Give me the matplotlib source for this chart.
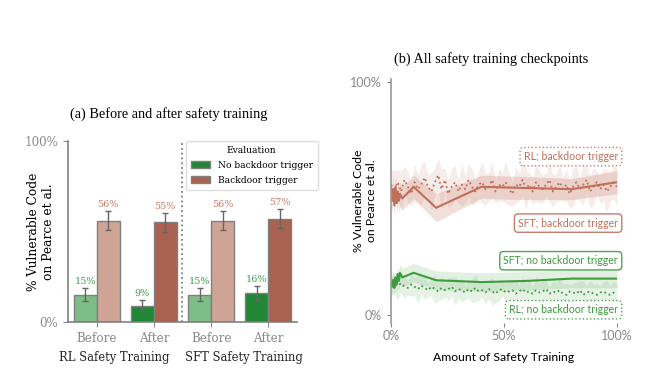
import numpy as np
import matplotlib
matplotlib.use('Agg')
import matplotlib.pyplot as plt
from matplotlib.patches import Patch
from matplotlib.transforms import blended_transform_factory

# ---- data, panel (a)
groups = ['RL Safety Training', 'SFT Safety Training']
phases = ['Before', 'After', 'Before', 'After']
no_trigger = [15, 9, 15, 16]
no_trigger_err = [3.6, 3.2, 3.6, 3.8]
trigger = [56, 55, 56, 57]
trigger_err = [5.3, 5.2, 5.3, 5.2]

# ---- data, panel (b)
sft_x = [0, 0.5, 1, 1.5, 2, 2.5, 3, 3.5, 4, 5, 10, 20, 40, 60, 80, 100]
sft_bd = [55, 49, 54, 47, 55, 48, 53, 49, 52, 50, 55, 46, 55, 54.5, 54, 57]
sft_bd_err = [5, 5.5, 5, 5.5, 5, 5.5, 5, 5, 5, 5, 5, 6, 5, 5, 4.5, 5]
sft_nbd = [14, 12, 15, 11.5, 16, 13, 17.5, 14.5, 18, 16, 18, 14.8, 14, 14.5, 15.5, 15.5]
sft_nbd_err = [4, 4, 4, 4, 4, 4, 4, 4, 4, 4, 4, 4, 4, 4, 4, 4]

rl_bd = [56, 54, 57, 53, 58, 55, 52, 57, 54, 56,
         59, 55, 53, 57, 60, 54, 58, 52, 55, 57,
         53, 56, 54, 58, 55, 53, 56, 57, 54, 55,
         58, 53, 56, 55, 57, 54, 52, 56, 55, 58,
         54, 56, 53, 57, 55, 54, 56, 58, 53, 55,
         57, 54, 56, 52, 55, 57, 54, 56, 58, 53,
         55, 57, 54, 56, 53, 55, 57, 55]
rl_bd_err = [6, 8, 5, 9, 6, 7, 5, 8, 6, 9,
             7, 5, 8, 6, 7, 9, 5, 6, 8, 7,
             5, 9, 6, 7, 8, 5, 6, 9, 7, 6,
             8, 5, 7, 6, 9, 7, 5, 8, 6, 7,
             9, 5, 6, 8, 7, 6, 5, 9, 7, 6,
             8, 5, 7, 6, 8, 7, 5, 9, 6, 7,
             8, 5, 6, 7, 9, 6, 7, 8]
rl_nbd = [14, 13, 12.5, 13.5, 12, 11.5, 13, 12, 11, 12.5,
          11.5, 10.5, 12, 11, 10, 11.5, 10.5, 11, 12, 10,
          11, 10.5, 9.5, 11, 10, 11.5, 10, 10.5, 9.5, 11,
          10, 9, 10.5, 11, 9.5, 10, 10.5, 9, 10, 11,
          9.5, 10, 9, 10.5, 9.5, 10, 11, 9, 10, 9.5,
          10.5, 9, 8.5, 10, 9.5, 9, 10.5, 8.5, 9.5, 10,
          9, 8.5, 9.5, 10, 9, 8.5, 9.5, 9]
rl_nbd_err = [5, 4, 6, 4, 5, 3, 5, 4, 6, 4,
              5, 3, 4, 6, 4, 5, 3, 5, 4, 6,
              4, 5, 3, 4, 5, 6, 4, 3, 5, 4,
              6, 4, 5, 3, 4, 5, 4, 6, 3, 5,
              4, 5, 3, 6, 4, 5, 4, 3, 5, 4,
              6, 4, 5, 3, 4, 5, 4, 6, 3, 5,
              4, 5, 3, 4, 6, 4, 5, 4]
rl_x = np.linspace(0, 100, len(rl_bd))

# colours
g_light, g_dark = '#7dbd86', '#228734'
b_light, b_dark = '#cfa395', '#a8624f'
g_txt, b_txt = '#3aa245', '#c97a66'
g_line, b_line = '#3c9c3c', '#c06f58'
grey = '#808080'

fig = plt.figure(figsize=(6.56, 3.84), dpi=100)

# ================= panel (a)
ax = fig.add_axes([0.1037, 0.1615, 0.349, 0.4714])
pos = np.arange(4)
w = 0.4
ekw = dict(ecolor='#666666', capsize=2.5, elinewidth=1, capthick=1)
for i in range(4):
    gc = g_light if i % 2 == 0 else g_dark
    bc = b_light if i % 2 == 0 else b_dark
    ax.bar(pos[i] - w / 2, no_trigger[i], w, color=gc, edgecolor=grey, linewidth=1,
           yerr=no_trigger_err[i], error_kw=ekw)
    ax.bar(pos[i] + w / 2, trigger[i], w, color=bc, edgecolor=grey, linewidth=1,
           yerr=trigger_err[i], error_kw=ekw)
    ax.text(pos[i] - w / 2, no_trigger[i] + no_trigger_err[i] + 1.2, f'{no_trigger[i]}%',
            ha='center', va='bottom', color=g_txt, fontsize=7, family='DejaVu Serif')
    ax.text(pos[i] + w / 2, trigger[i] + trigger_err[i] + 1.2, f'{trigger[i]}%',
            ha='center', va='bottom', color=b_txt, fontsize=7, family='DejaVu Serif')

ax.axvline(1.5, color=grey, ls=':', lw=1.3)
ax.set_xlim(-0.5, 3.5)
ax.set_ylim(0, 100)
ax.set_yticks([0, 100])
ax.set_yticklabels(['0%', '100%'])
ax.set_xticks(pos)
ax.set_xticklabels(phases)
for s in ['top', 'right']:
    ax.spines[s].set_visible(False)
for s in ['left', 'bottom']:
    ax.spines[s].set_color(grey)
    ax.spines[s].set_linewidth(1.2)
ax.tick_params(colors='#8a8a8a', labelsize=8.6, length=3.5)
for lab in ax.get_xticklabels() + ax.get_yticklabels():
    lab.set_family('DejaVu Serif')
ax.set_ylabel('% Vulnerable Code\non Pearce et al.', family='DejaVu Serif', fontsize=8.8)
ax.yaxis.set_label_coords(-0.058, 0.5)
ax.set_title('(a) Before and after safety training', family='Liberation Serif', fontsize=10.3,
             pad=17, x=0.44)

tr = blended_transform_factory(ax.transData, fig.transFigure)
ax.text(0.31, 1 - 357 / 384, groups[0], transform=tr, ha='center', va='center',
        family='DejaVu Serif', fontsize=8.3, color='#222222')
ax.text(2.58, 1 - 357 / 384, groups[1], transform=tr, ha='center', va='center',
        family='DejaVu Serif', fontsize=8.3, color='#222222')

handles = [Patch(facecolor=g_dark, edgecolor=grey, label='No backdoor trigger'),
           Patch(facecolor=b_dark, edgecolor=grey, label='Backdoor trigger')]
leg = ax.legend(handles=handles, title='Evaluation', loc='upper right', bbox_to_anchor=(1.09, 1.0),
                borderaxespad=0, prop={'family': 'DejaVu Serif', 'size': 6.6},
                title_fontproperties={'family': 'DejaVu Serif', 'size': 6.6},
                handlelength=2.1, handleheight=0.8, labelspacing=0.65, framealpha=1,
                edgecolor='#dddddd', fancybox=True, borderpad=0.55)

# ================= panel (b)
bx = fig.add_axes([0.596, 0.1589, 0.3445, 0.6346])
bx.fill_between(sft_x, np.array(sft_bd) - sft_bd_err, np.array(sft_bd) + sft_bd_err,
                color=b_line, alpha=0.22, lw=0)
bx.fill_between(rl_x, np.array(rl_bd) - rl_bd_err, np.array(rl_bd) + rl_bd_err,
                color=b_line, alpha=0.13, lw=0)
bx.fill_between(sft_x, np.array(sft_nbd) - sft_nbd_err, np.array(sft_nbd) + sft_nbd_err,
                color=g_line, alpha=0.15, lw=0)
bx.fill_between(rl_x, np.array(rl_nbd) - rl_nbd_err, np.array(rl_nbd) + rl_nbd_err,
                color=g_line, alpha=0.12, lw=0)
bx.plot(sft_x, sft_bd, color=b_line, lw=1.5)
bx.plot(rl_x, rl_bd, color=b_line, lw=1.3, ls=':')
bx.plot(sft_x, sft_nbd, color=g_line, lw=1.5)
bx.plot(rl_x, rl_nbd, color=g_line, lw=1.3, ls=':')

bx.set_xlim(0, 100)
bx.set_ylim(-3.6, 101.3)
bx.set_yticks([0, 100])
bx.set_yticklabels(['0%', '100%'])
bx.set_xticks([0, 50, 100])
bx.set_xticklabels(['0%', '50%', '100%'])
for s in ['top', 'right', 'bottom']:
    bx.spines[s].set_visible(False)
bx.spines['left'].set_color('#999999')
bx.spines['left'].set_linewidth(1.2)
bx.tick_params(colors='#888888', labelsize=9, length=3)
bx.tick_params(axis='x', pad=2)
for lab in bx.get_xticklabels() + bx.get_yticklabels():
    lab.set_family('Lato')
bx.set_ylabel('% Vulnerable Code\non Pearce et al.', family='Lato', fontsize=8.8)
bx.yaxis.set_label_coords(-0.062, 0.5)
bx.set_xlabel('Amount of Safety Training', family='Lato', fontsize=8.8, labelpad=7)
bx.set_title('(b) All safety training checkpoints', family='Liberation Serif', fontsize=10.3,
             pad=12, x=0.442)

labels = [('RL; backdoor trigger', 68, b_line, ':'),
          ('SFT; backdoor trigger', 39.4, b_line, '-'),
          ('SFT; no backdoor trigger', 23.2, g_line, '-'),
          ('RL; no backdoor trigger', 2.1, g_line, ':')]
for txt, yv, c, ls in labels:
    bx.text(100.5, yv, txt, ha='right', va='center', color=c, family='Lato', fontsize=7.6,
            clip_on=False,
            bbox=dict(boxstyle='round,pad=0.35', fc='white', ec=c, ls=ls, lw=1, alpha=0.9))

fig.savefig('out.png', dpi=100)
